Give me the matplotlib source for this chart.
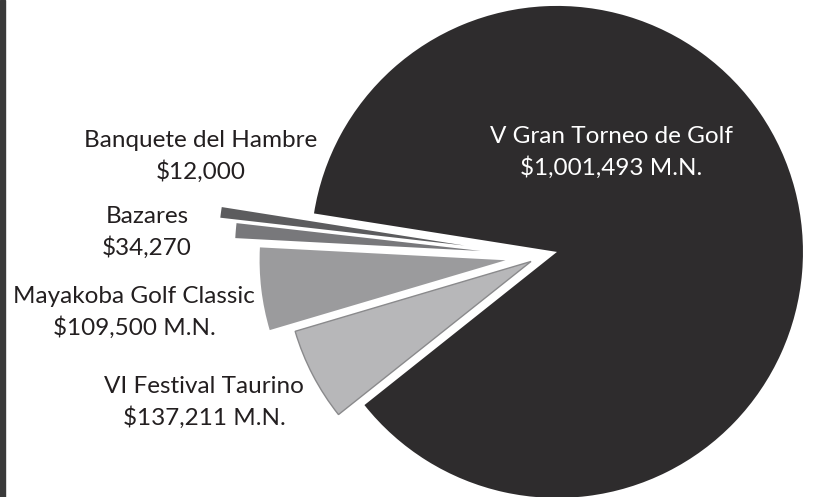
import matplotlib.pyplot as plt
from matplotlib.patches import Rectangle

# events, amounts raised and the wedge sizes as drawn in the original (degrees)
labels = ["Banquete del Hambre", "Bazares", "Mayakoba Golf Classic",
          "VI Festival Taurino", "V Gran Torneo de Golf"]
amounts = [12000, 34270, 109500, 137211, 1001493]
suffix = ["", "", " M.N.", " M.N.", " M.N."]
drawn_deg = [2.5, 3.5, 19.5, 22.0, 312.5]

colors = ["#5c5c5e", "#78787b", "#9b9b9d", "#b7b7b9", "#2e2c2d"]
explode = [0.315, 0.247, 0.147, 0.048, 0.065]   # fraction of radius

W, H = 813, 497
fig = plt.figure(figsize=(W / 100, H / 100), dpi=100)
ax = fig.add_axes([0, 0, 1, 1])

cx, cy, r = 541.5, H - 256, 246
# pie offsets explode in data units, so scale by the radius
wedges, _ = ax.pie(drawn_deg, colors=colors, explode=[e * r for e in explode],
                   startangle=171, center=(cx, cy), radius=r,
                   wedgeprops=dict(linewidth=0))
wedges[3].set_edgecolor("#8a8a8c")
wedges[3].set_linewidth(1.0)

ax.set_xlim(0, W)
ax.set_ylim(0, H)
ax.set_aspect("equal")
ax.axis("off")

# label block centres, in pixels from the top-left corner
label_pos = [(201, 156), (147, 232), (134, 312), (204, 402), (611, 152)]
for i, (x, y) in enumerate(label_pos):
    txt = "%s\n$%s%s" % (labels[i], format(amounts[i], ","), suffix[i])
    col = "white" if i == 4 else "#231f20"
    ax.text(x, H - y, txt, ha="center", va="center", fontsize=17.5,
            color=col, family=["Lato", "DejaVu Sans"], linespacing=1.5)

# dark strip down the left edge
fig.patches.append(Rectangle((0, 0), 5 / W, 1, transform=fig.transFigure,
                             color="#3a3a3a", zorder=10))

fig.savefig("out.png", dpi=100)
